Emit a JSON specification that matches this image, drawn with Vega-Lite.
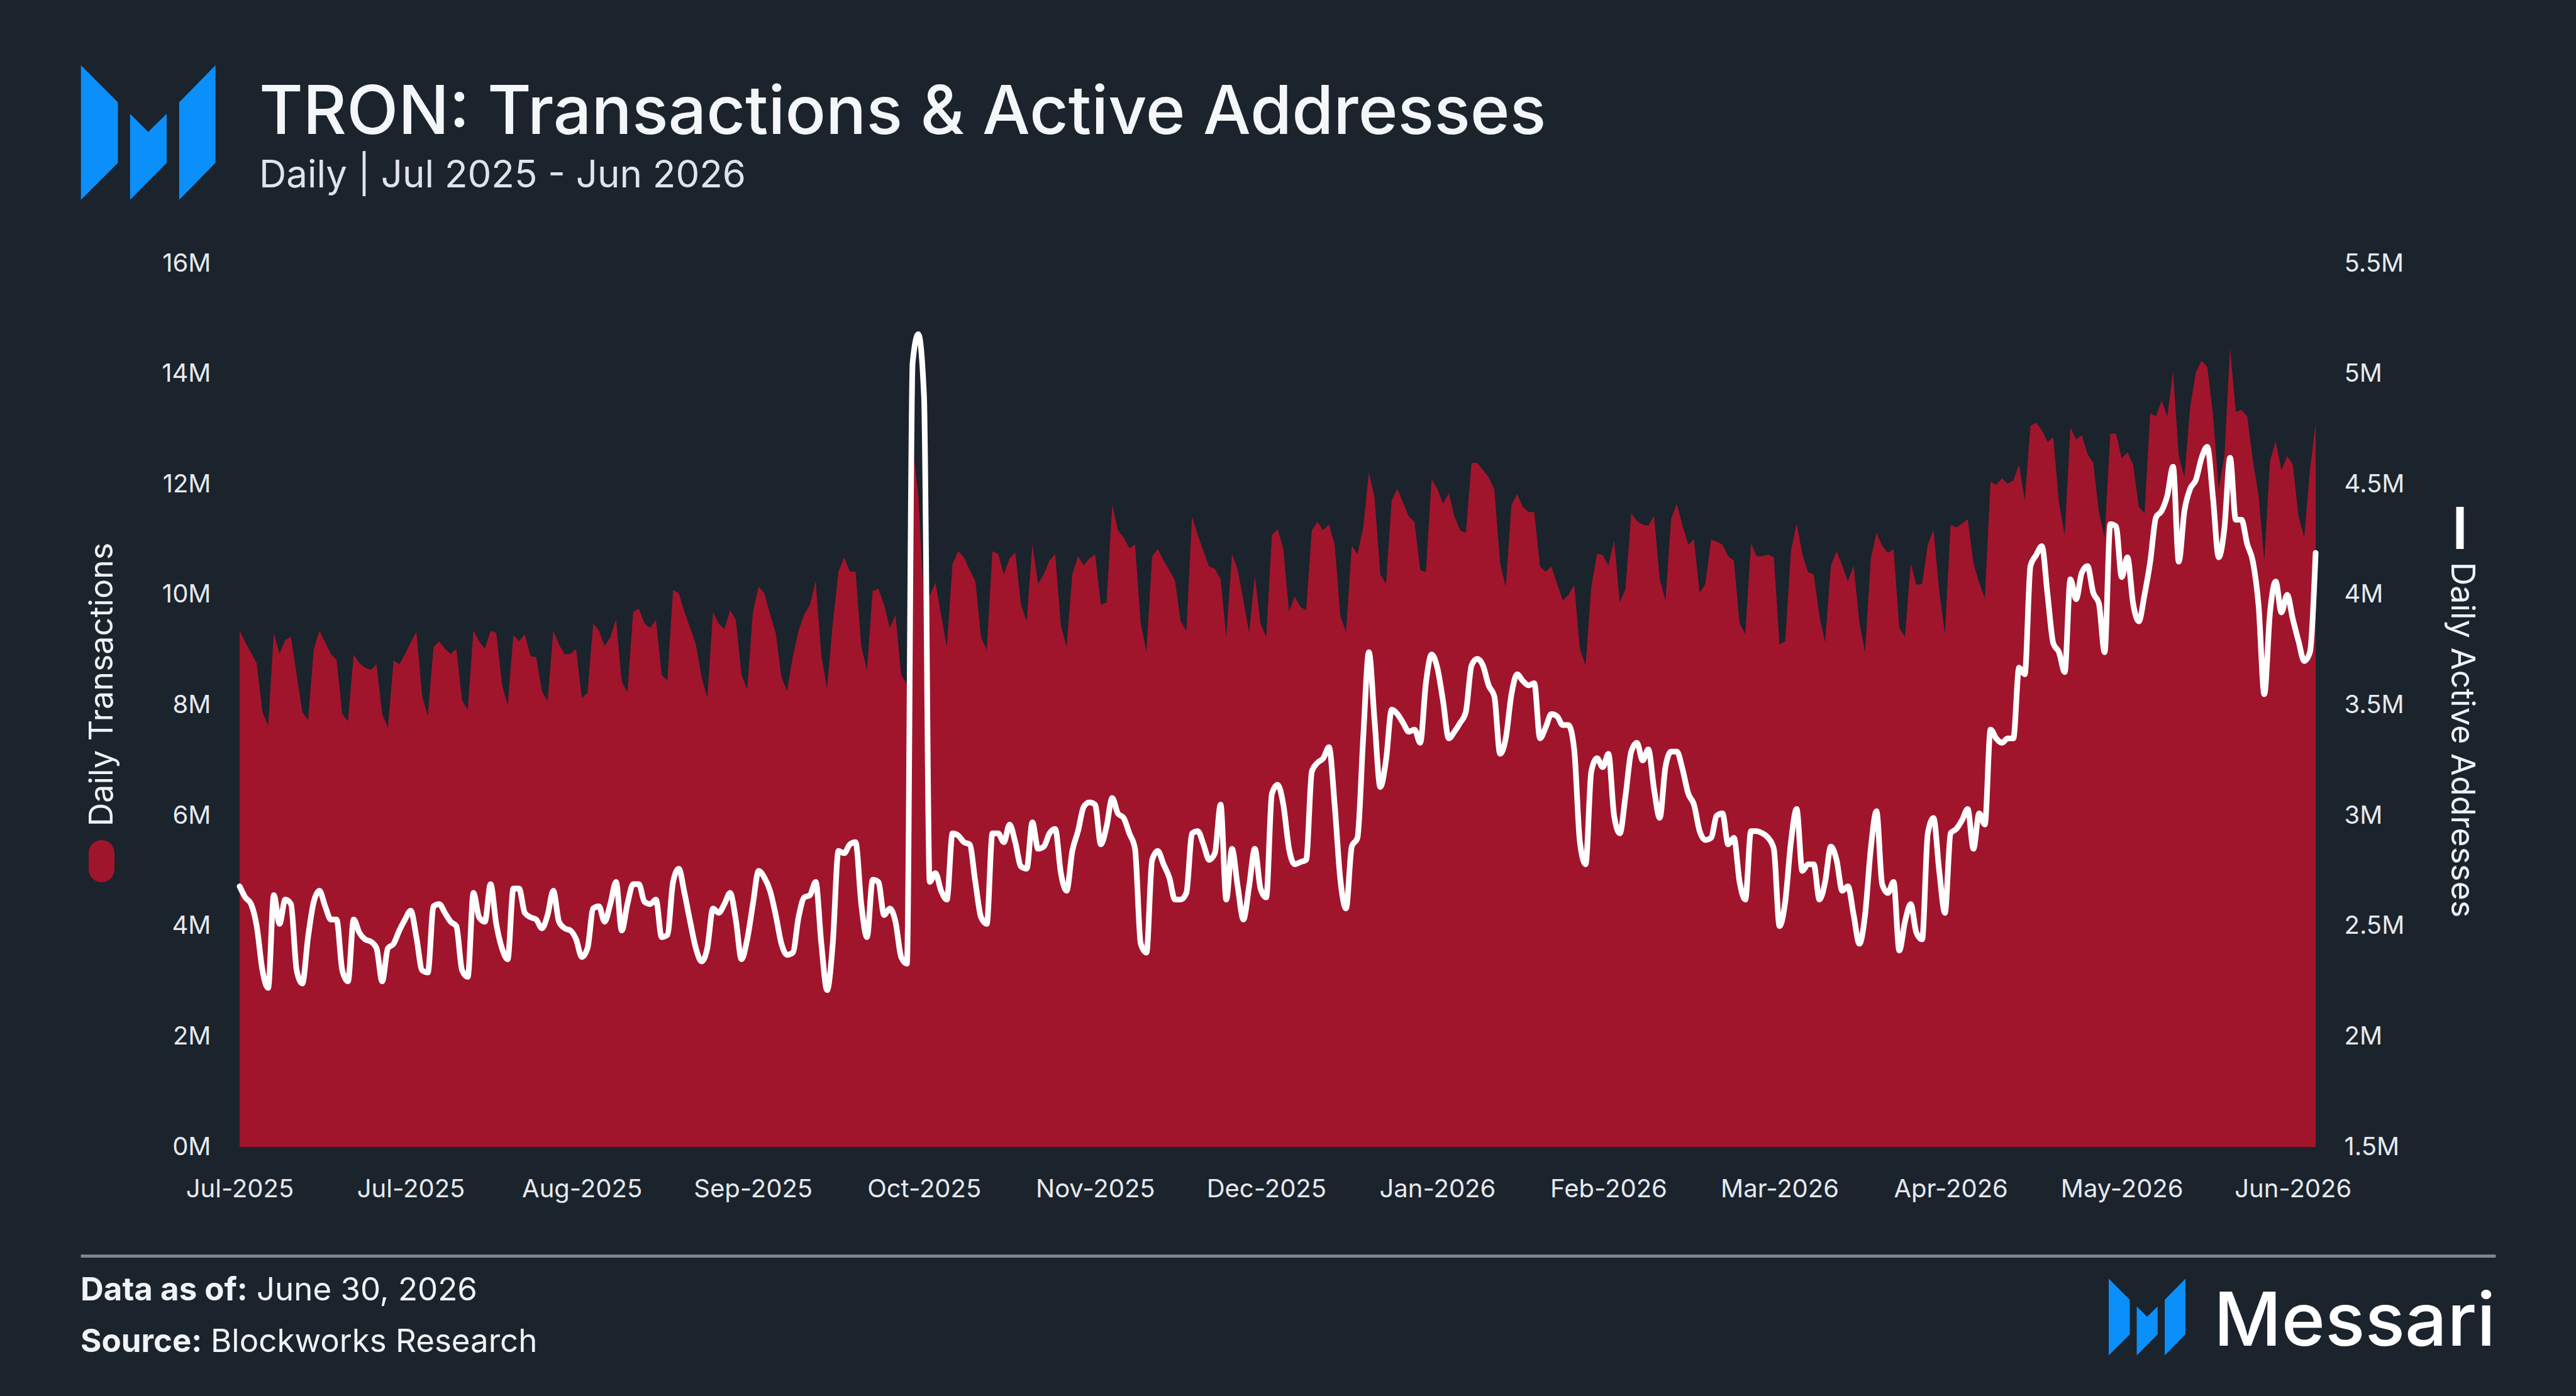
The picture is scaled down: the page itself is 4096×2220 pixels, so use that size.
{
  "$schema": "https://vega.github.io/schema/vega-lite/v6.json",
  "background": "#1b232c",
  "padding": {"left": 128, "top": 103, "right": 128, "bottom": 0},
  "spacing": 81,
  "vconcat": [
    {
      "width": 2200,
      "height": 214,
      "data": {"values": [
        {"role": "title", "text": "TRON: Transactions & Active Addresses"},
        {"role": "subtitle", "text": "Daily | Jul 2025 - Jun 2026"}
      ]},
      "encoding": {
        "x": {"datum": 0, "type": "quantitative", "scale": {"domain": [0, 1], "range": [31, 2200]}, "axis": null},
        "y": {"field": "role", "type": "nominal", "axis": null,
              "scale": {"type": "point", "domain": ["title", "subtitle"], "padding": 0.7588, "align": 0.845}}
      },
      "layer": [
        {
          "transform": [{"filter": "datum.role === 'title'"}],
          "mark": {"type": "point", "filled": true, "opacity": 1, "strokeWidth": 0, "color": "#0b8ffa", "size": 45796,
                   "shape": "M-2.648,-1.02L-2.098,-0.47L-2.098,0.43L-2.648,0.98ZM-1.918,-0.3L-1.648,-0.03L-1.373,-0.3L-1.373,0.43L-1.918,0.98ZM-1.188,-0.47L-0.648,-1.02L-0.648,0.43L-1.188,0.98Z"}
        },
        {
          "transform": [{"filter": "datum.role === 'title'"}],
          "mark": {"type": "text", "align": "left", "baseline": "alphabetic", "fontSize": 107, "fontWeight": 500, "color": "#f4f7fa"},
          "encoding": {"text": {"field": "text"}}
        },
        {
          "transform": [{"filter": "datum.role === 'subtitle'"}],
          "mark": {"type": "text", "align": "left", "baseline": "alphabetic", "fontSize": 60, "color": "#dfe4ea"},
          "encoding": {"text": {"field": "text"}}
        }
      ]
    },
    {
      "spacing": 86,
      "vconcat": [
        {
          "width": 3301,
          "height": 1405,
          "data": {"values": [
            {"date":"2025-07-01","tx":9.35,"dau":2.68},{"date":"2025-07-02","tx":9.14,"dau":2.63},{"date":"2025-07-03","tx":8.95,"dau":2.60},
            {"date":"2025-07-04","tx":8.76,"dau":2.50},{"date":"2025-07-05","tx":7.88,"dau":2.30},{"date":"2025-07-06","tx":7.63,"dau":2.22},
            {"date":"2025-07-07","tx":9.31,"dau":2.64},{"date":"2025-07-08","tx":8.93,"dau":2.51},{"date":"2025-07-09","tx":9.18,"dau":2.62},
            {"date":"2025-07-10","tx":9.24,"dau":2.60},{"date":"2025-07-11","tx":8.55,"dau":2.30},{"date":"2025-07-12","tx":7.88,"dau":2.24},
            {"date":"2025-07-13","tx":7.73,"dau":2.45},{"date":"2025-07-14","tx":9.02,"dau":2.61},{"date":"2025-07-15","tx":9.35,"dau":2.66},
            {"date":"2025-07-16","tx":9.14,"dau":2.59},{"date":"2025-07-17","tx":8.93,"dau":2.53},{"date":"2025-07-18","tx":8.82,"dau":2.53},
            {"date":"2025-07-19","tx":7.84,"dau":2.30},{"date":"2025-07-20","tx":7.71,"dau":2.25},{"date":"2025-07-21","tx":8.92,"dau":2.53},
            {"date":"2025-07-22","tx":8.76,"dau":2.47},{"date":"2025-07-23","tx":8.68,"dau":2.44},{"date":"2025-07-24","tx":8.64,"dau":2.43},
            {"date":"2025-07-25","tx":8.74,"dau":2.40},{"date":"2025-07-26","tx":7.84,"dau":2.25},{"date":"2025-07-27","tx":7.59,"dau":2.40},
            {"date":"2025-07-28","tx":8.81,"dau":2.42},{"date":"2025-07-29","tx":8.74,"dau":2.48},{"date":"2025-07-30","tx":8.93,"dau":2.53},
            {"date":"2025-07-31","tx":9.14,"dau":2.57},
            {"date":"2025-08-01","tx":9.33,"dau":2.45},{"date":"2025-08-02","tx":8.17,"dau":2.30},{"date":"2025-08-03","tx":7.80,"dau":2.29},
            {"date":"2025-08-04","tx":9.06,"dau":2.59},{"date":"2025-08-05","tx":9.16,"dau":2.60},{"date":"2025-08-06","tx":9.02,"dau":2.56},
            {"date":"2025-08-07","tx":8.93,"dau":2.52},{"date":"2025-08-08","tx":9.02,"dau":2.50},{"date":"2025-08-09","tx":8.09,"dau":2.30},
            {"date":"2025-08-10","tx":7.92,"dau":2.27},{"date":"2025-08-11","tx":9.35,"dau":2.65},{"date":"2025-08-12","tx":9.16,"dau":2.54},
            {"date":"2025-08-13","tx":9.02,"dau":2.52},{"date":"2025-08-14","tx":9.35,"dau":2.69},{"date":"2025-08-15","tx":9.31,"dau":2.51},
            {"date":"2025-08-16","tx":8.38,"dau":2.40},{"date":"2025-08-17","tx":8.00,"dau":2.35},{"date":"2025-08-18","tx":9.27,"dau":2.67},
            {"date":"2025-08-19","tx":9.16,"dau":2.67},{"date":"2025-08-20","tx":9.29,"dau":2.56},{"date":"2025-08-21","tx":8.89,"dau":2.54},
            {"date":"2025-08-22","tx":8.87,"dau":2.53},{"date":"2025-08-23","tx":8.26,"dau":2.49},{"date":"2025-08-24","tx":8.07,"dau":2.55},
            {"date":"2025-08-25","tx":9.35,"dau":2.66},{"date":"2025-08-26","tx":9.10,"dau":2.52},{"date":"2025-08-27","tx":8.92,"dau":2.49},
            {"date":"2025-08-28","tx":8.93,"dau":2.48},{"date":"2025-08-29","tx":9.02,"dau":2.44},{"date":"2025-08-30","tx":8.13,"dau":2.36},
            {"date":"2025-08-31","tx":8.23,"dau":2.40},
            {"date":"2025-09-01","tx":9.48,"dau":2.58},{"date":"2025-09-02","tx":9.35,"dau":2.59},{"date":"2025-09-03","tx":9.07,"dau":2.52},
            {"date":"2025-09-04","tx":9.23,"dau":2.60},{"date":"2025-09-05","tx":9.56,"dau":2.70},{"date":"2025-09-06","tx":8.43,"dau":2.48},
            {"date":"2025-09-07","tx":8.23,"dau":2.60},{"date":"2025-09-08","tx":9.69,"dau":2.69},{"date":"2025-09-09","tx":9.75,"dau":2.69},
            {"date":"2025-09-10","tx":9.48,"dau":2.61},{"date":"2025-09-11","tx":9.40,"dau":2.60},{"date":"2025-09-12","tx":9.55,"dau":2.62},
            {"date":"2025-09-13","tx":8.55,"dau":2.45},{"date":"2025-09-14","tx":8.45,"dau":2.46},{"date":"2025-09-15","tx":10.09,"dau":2.70},
            {"date":"2025-09-16","tx":10.03,"dau":2.76},{"date":"2025-09-17","tx":9.69,"dau":2.65},{"date":"2025-09-18","tx":9.40,"dau":2.52},
            {"date":"2025-09-19","tx":9.10,"dau":2.40},{"date":"2025-09-20","tx":8.51,"dau":2.34},{"date":"2025-09-21","tx":8.13,"dau":2.40},
            {"date":"2025-09-22","tx":9.69,"dau":2.58},{"date":"2025-09-23","tx":9.48,"dau":2.56},{"date":"2025-09-24","tx":9.38,"dau":2.60},
            {"date":"2025-09-25","tx":9.72,"dau":2.65},{"date":"2025-09-26","tx":9.55,"dau":2.53},{"date":"2025-09-27","tx":8.55,"dau":2.35},
            {"date":"2025-09-28","tx":8.28,"dau":2.44},{"date":"2025-09-29","tx":9.69,"dau":2.60},{"date":"2025-09-30","tx":10.15,"dau":2.75},
            {"date":"2025-10-01","tx":10.03,"dau":2.72},{"date":"2025-10-02","tx":9.65,"dau":2.66},{"date":"2025-10-03","tx":9.31,"dau":2.55},
            {"date":"2025-10-04","tx":8.51,"dau":2.42},{"date":"2025-10-05","tx":8.26,"dau":2.37},{"date":"2025-10-06","tx":8.89,"dau":2.38},
            {"date":"2025-10-07","tx":9.35,"dau":2.54},{"date":"2025-10-08","tx":9.65,"dau":2.63},{"date":"2025-10-09","tx":9.82,"dau":2.64},
            {"date":"2025-10-10","tx":10.25,"dau":2.70},{"date":"2025-10-11","tx":8.89,"dau":2.42},{"date":"2025-10-12","tx":8.30,"dau":2.21},
            {"date":"2025-10-13","tx":9.48,"dau":2.42},{"date":"2025-10-14","tx":10.42,"dau":2.84},{"date":"2025-10-15","tx":10.68,"dau":2.83},
            {"date":"2025-10-16","tx":10.42,"dau":2.87},{"date":"2025-10-17","tx":10.42,"dau":2.88},{"date":"2025-10-18","tx":9.06,"dau":2.60},
            {"date":"2025-10-19","tx":8.64,"dau":2.45},{"date":"2025-10-20","tx":10.07,"dau":2.71},{"date":"2025-10-21","tx":10.11,"dau":2.70},
            {"date":"2025-10-22","tx":9.82,"dau":2.55},{"date":"2025-10-23","tx":9.40,"dau":2.58},{"date":"2025-10-24","tx":9.63,"dau":2.52},
            {"date":"2025-10-25","tx":8.55,"dau":2.36},{"date":"2025-10-26","tx":8.38,"dau":2.33},{"date":"2025-10-27","tx":12.70,"dau":5.05},
            {"date":"2025-10-28","tx":11.80,"dau":5.18},{"date":"2025-10-29","tx":9.90,"dau":4.90},{"date":"2025-10-30","tx":9.99,"dau":2.70},
            {"date":"2025-10-31","tx":10.22,"dau":2.74},
            {"date":"2025-11-01","tx":9.63,"dau":2.66},{"date":"2025-11-02","tx":9.06,"dau":2.62},{"date":"2025-11-03","tx":10.56,"dau":2.92},
            {"date":"2025-11-04","tx":10.79,"dau":2.91},{"date":"2025-11-05","tx":10.68,"dau":2.88},{"date":"2025-11-06","tx":10.45,"dau":2.87},
            {"date":"2025-11-07","tx":10.25,"dau":2.70},{"date":"2025-11-08","tx":9.23,"dau":2.54},{"date":"2025-11-09","tx":9.00,"dau":2.51},
            {"date":"2025-11-10","tx":10.79,"dau":2.92},{"date":"2025-11-11","tx":10.74,"dau":2.92},{"date":"2025-11-12","tx":10.37,"dau":2.88},
            {"date":"2025-11-13","tx":10.66,"dau":2.96},{"date":"2025-11-14","tx":10.77,"dau":2.88},{"date":"2025-11-15","tx":9.82,"dau":2.77},
            {"date":"2025-11-16","tx":9.52,"dau":2.76},{"date":"2025-11-17","tx":10.91,"dau":2.97},{"date":"2025-11-18","tx":10.20,"dau":2.85},
            {"date":"2025-11-19","tx":10.37,"dau":2.86},{"date":"2025-11-20","tx":10.62,"dau":2.92},{"date":"2025-11-21","tx":10.74,"dau":2.94},
            {"date":"2025-11-22","tx":9.44,"dau":2.74},{"date":"2025-11-23","tx":9.06,"dau":2.66},{"date":"2025-11-24","tx":10.37,"dau":2.84},
            {"date":"2025-11-25","tx":10.70,"dau":2.93},{"date":"2025-11-26","tx":10.53,"dau":3.04},{"date":"2025-11-27","tx":10.66,"dau":3.06},
            {"date":"2025-11-28","tx":10.73,"dau":3.05},{"date":"2025-11-29","tx":9.82,"dau":2.87},{"date":"2025-11-30","tx":9.86,"dau":2.95},
            {"date":"2025-12-01","tx":11.63,"dau":3.08},{"date":"2025-12-02","tx":11.17,"dau":3.01},{"date":"2025-12-03","tx":11.04,"dau":2.99},
            {"date":"2025-12-04","tx":10.84,"dau":2.92},{"date":"2025-12-05","tx":10.91,"dau":2.85},{"date":"2025-12-06","tx":9.48,"dau":2.42},
            {"date":"2025-12-07","tx":8.97,"dau":2.38},{"date":"2025-12-08","tx":10.70,"dau":2.80},{"date":"2025-12-09","tx":10.83,"dau":2.84},
            {"date":"2025-12-10","tx":10.62,"dau":2.78},{"date":"2025-12-11","tx":10.45,"dau":2.72},{"date":"2025-12-12","tx":10.26,"dau":2.62},
            {"date":"2025-12-13","tx":9.52,"dau":2.62},{"date":"2025-12-14","tx":9.35,"dau":2.65},{"date":"2025-12-15","tx":11.42,"dau":2.92},
            {"date":"2025-12-16","tx":11.08,"dau":2.93},{"date":"2025-12-17","tx":10.79,"dau":2.87},{"date":"2025-12-18","tx":10.51,"dau":2.80},
            {"date":"2025-12-19","tx":10.47,"dau":2.83},{"date":"2025-12-20","tx":10.28,"dau":3.05},{"date":"2025-12-21","tx":9.24,"dau":2.62},
            {"date":"2025-12-22","tx":10.74,"dau":2.85},{"date":"2025-12-23","tx":10.45,"dau":2.68},{"date":"2025-12-24","tx":9.90,"dau":2.53},
            {"date":"2025-12-25","tx":9.31,"dau":2.68},{"date":"2025-12-26","tx":10.34,"dau":2.85},{"date":"2025-12-27","tx":9.48,"dau":2.67},
            {"date":"2025-12-28","tx":9.23,"dau":2.63},{"date":"2025-12-29","tx":11.08,"dau":3.10},{"date":"2025-12-30","tx":11.19,"dau":3.14},
            {"date":"2025-12-31","tx":10.83,"dau":3.05},
            {"date":"2026-01-01","tx":9.69,"dau":2.85},{"date":"2026-01-02","tx":9.97,"dau":2.78},{"date":"2026-01-03","tx":9.78,"dau":2.79},
            {"date":"2026-01-04","tx":9.72,"dau":2.80},{"date":"2026-01-05","tx":11.17,"dau":3.20},{"date":"2026-01-06","tx":11.32,"dau":3.24},
            {"date":"2026-01-07","tx":11.17,"dau":3.26},{"date":"2026-01-08","tx":11.28,"dau":3.31},{"date":"2026-01-09","tx":10.91,"dau":3.05},
            {"date":"2026-01-10","tx":9.61,"dau":2.71},{"date":"2026-01-11","tx":9.33,"dau":2.58},{"date":"2026-01-12","tx":10.89,"dau":2.86},
            {"date":"2026-01-13","tx":10.74,"dau":2.90},{"date":"2026-01-14","tx":11.21,"dau":3.35},{"date":"2026-01-15","tx":12.22,"dau":3.74},
            {"date":"2026-01-16","tx":11.76,"dau":3.43},{"date":"2026-01-17","tx":10.37,"dau":3.13},{"date":"2026-01-18","tx":10.20,"dau":3.25},
            {"date":"2026-01-19","tx":11.71,"dau":3.48},{"date":"2026-01-20","tx":11.92,"dau":3.46},{"date":"2026-01-21","tx":11.67,"dau":3.42},
            {"date":"2026-01-22","tx":11.42,"dau":3.38},{"date":"2026-01-23","tx":11.32,"dau":3.39},{"date":"2026-01-24","tx":10.45,"dau":3.33},
            {"date":"2026-01-25","tx":10.41,"dau":3.60},{"date":"2026-01-26","tx":12.09,"dau":3.73},{"date":"2026-01-27","tx":11.92,"dau":3.67},
            {"date":"2026-01-28","tx":11.65,"dau":3.52},{"date":"2026-01-29","tx":11.84,"dau":3.35},{"date":"2026-01-30","tx":11.42,"dau":3.38},
            {"date":"2026-01-31","tx":11.17,"dau":3.42},
            {"date":"2026-02-01","tx":11.12,"dau":3.47},{"date":"2026-02-02","tx":12.39,"dau":3.68},{"date":"2026-02-03","tx":12.39,"dau":3.71},
            {"date":"2026-02-04","tx":12.26,"dau":3.68},{"date":"2026-02-05","tx":12.13,"dau":3.59},{"date":"2026-02-06","tx":11.91,"dau":3.54},
            {"date":"2026-02-07","tx":10.58,"dau":3.28},{"date":"2026-02-08","tx":10.14,"dau":3.35},{"date":"2026-02-09","tx":11.63,"dau":3.55},
            {"date":"2026-02-10","tx":11.82,"dau":3.64},{"date":"2026-02-11","tx":11.59,"dau":3.61},{"date":"2026-02-12","tx":11.50,"dau":3.59},
            {"date":"2026-02-13","tx":11.50,"dau":3.60},{"date":"2026-02-14","tx":10.51,"dau":3.35},{"date":"2026-02-15","tx":10.42,"dau":3.40},
            {"date":"2026-02-16","tx":10.51,"dau":3.46},{"date":"2026-02-17","tx":10.20,"dau":3.45},{"date":"2026-02-18","tx":9.90,"dau":3.41},
            {"date":"2026-02-19","tx":10.00,"dau":3.41},{"date":"2026-02-20","tx":10.18,"dau":3.30},{"date":"2026-02-21","tx":9.02,"dau":2.88},
            {"date":"2026-02-22","tx":8.72,"dau":2.78},{"date":"2026-02-23","tx":10.15,"dau":3.20},{"date":"2026-02-24","tx":10.74,"dau":3.26},
            {"date":"2026-02-25","tx":10.72,"dau":3.22},{"date":"2026-02-26","tx":10.53,"dau":3.28},{"date":"2026-02-27","tx":10.98,"dau":3.00},
            {"date":"2026-02-28","tx":9.86,"dau":2.92},
            {"date":"2026-03-01","tx":10.11,"dau":3.09},{"date":"2026-03-02","tx":11.48,"dau":3.29},{"date":"2026-03-03","tx":11.33,"dau":3.33},
            {"date":"2026-03-04","tx":11.27,"dau":3.25},{"date":"2026-03-05","tx":11.25,"dau":3.30},{"date":"2026-03-06","tx":11.43,"dau":3.12},
            {"date":"2026-03-07","tx":10.28,"dau":2.99},{"date":"2026-03-08","tx":9.90,"dau":3.22},{"date":"2026-03-09","tx":11.38,"dau":3.29},
            {"date":"2026-03-10","tx":11.65,"dau":3.29},{"date":"2026-03-11","tx":11.25,"dau":3.21},{"date":"2026-03-12","tx":10.91,"dau":3.10},
            {"date":"2026-03-13","tx":11.00,"dau":3.05},{"date":"2026-03-14","tx":10.03,"dau":2.93},{"date":"2026-03-15","tx":10.20,"dau":2.89},
            {"date":"2026-03-16","tx":11.00,"dau":2.90},{"date":"2026-03-17","tx":10.96,"dau":3.00},{"date":"2026-03-18","tx":10.91,"dau":3.01},
            {"date":"2026-03-19","tx":10.70,"dau":2.87},{"date":"2026-03-20","tx":10.62,"dau":2.90},{"date":"2026-03-21","tx":9.48,"dau":2.70},
            {"date":"2026-03-22","tx":9.29,"dau":2.62},{"date":"2026-03-23","tx":10.93,"dau":2.93},{"date":"2026-03-24","tx":10.70,"dau":2.93},
            {"date":"2026-03-25","tx":10.70,"dau":2.92},{"date":"2026-03-26","tx":10.73,"dau":2.90},{"date":"2026-03-27","tx":10.68,"dau":2.85},
            {"date":"2026-03-28","tx":9.10,"dau":2.50},{"date":"2026-03-29","tx":9.16,"dau":2.61},{"date":"2026-03-30","tx":10.79,"dau":2.88},
            {"date":"2026-03-31","tx":11.29,"dau":3.03},
            {"date":"2026-04-01","tx":10.74,"dau":2.75},{"date":"2026-04-02","tx":10.41,"dau":2.78},{"date":"2026-04-03","tx":10.37,"dau":2.78},
            {"date":"2026-04-04","tx":9.61,"dau":2.62},{"date":"2026-04-05","tx":9.14,"dau":2.70},{"date":"2026-04-06","tx":10.53,"dau":2.86},
            {"date":"2026-04-07","tx":10.79,"dau":2.80},{"date":"2026-04-08","tx":10.53,"dau":2.66},{"date":"2026-04-09","tx":10.24,"dau":2.68},
            {"date":"2026-04-10","tx":10.53,"dau":2.55},{"date":"2026-04-11","tx":9.50,"dau":2.42},{"date":"2026-04-12","tx":8.96,"dau":2.55},
            {"date":"2026-04-13","tx":10.66,"dau":2.85},{"date":"2026-04-14","tx":11.12,"dau":3.02},{"date":"2026-04-15","tx":10.89,"dau":2.69},
            {"date":"2026-04-16","tx":10.76,"dau":2.65},{"date":"2026-04-17","tx":10.83,"dau":2.70},{"date":"2026-04-18","tx":9.40,"dau":2.39},
            {"date":"2026-04-19","tx":9.24,"dau":2.52},{"date":"2026-04-20","tx":10.57,"dau":2.60},{"date":"2026-04-21","tx":10.18,"dau":2.47},
            {"date":"2026-04-22","tx":10.20,"dau":2.44},{"date":"2026-04-23","tx":10.91,"dau":2.92},{"date":"2026-04-24","tx":11.18,"dau":2.99},
            {"date":"2026-04-25","tx":10.07,"dau":2.75},{"date":"2026-04-26","tx":9.29,"dau":2.56},{"date":"2026-04-27","tx":11.27,"dau":2.92},
            {"date":"2026-04-28","tx":11.22,"dau":2.94},{"date":"2026-04-29","tx":11.29,"dau":2.98},{"date":"2026-04-30","tx":11.37,"dau":3.03},
            {"date":"2026-05-01","tx":10.57,"dau":2.85},{"date":"2026-05-02","tx":10.22,"dau":3.01},{"date":"2026-05-03","tx":9.94,"dau":2.96},
            {"date":"2026-05-04","tx":12.05,"dau":3.39},{"date":"2026-05-05","tx":11.99,"dau":3.35},{"date":"2026-05-06","tx":12.11,"dau":3.33},
            {"date":"2026-05-07","tx":12.01,"dau":3.35},{"date":"2026-05-08","tx":12.07,"dau":3.35},{"date":"2026-05-09","tx":12.36,"dau":3.67},
            {"date":"2026-05-10","tx":11.71,"dau":3.64},{"date":"2026-05-11","tx":13.06,"dau":4.13},{"date":"2026-05-12","tx":13.12,"dau":4.18},
            {"date":"2026-05-13","tx":12.98,"dau":4.22},{"date":"2026-05-14","tx":12.77,"dau":4.00},{"date":"2026-05-15","tx":12.85,"dau":3.78},
            {"date":"2026-05-16","tx":11.67,"dau":3.74},{"date":"2026-05-17","tx":11.08,"dau":3.65},{"date":"2026-05-18","tx":13.03,"dau":4.07},
            {"date":"2026-05-19","tx":12.81,"dau":3.98},{"date":"2026-05-20","tx":12.89,"dau":4.10},{"date":"2026-05-21","tx":12.55,"dau":4.13},
            {"date":"2026-05-22","tx":12.39,"dau":4.01},{"date":"2026-05-23","tx":11.50,"dau":3.96},{"date":"2026-05-24","tx":11.04,"dau":3.74},
            {"date":"2026-05-25","tx":12.92,"dau":4.32},{"date":"2026-05-26","tx":12.92,"dau":4.31},{"date":"2026-05-27","tx":12.47,"dau":4.08},
            {"date":"2026-05-28","tx":12.58,"dau":4.17},{"date":"2026-05-29","tx":12.36,"dau":3.96},{"date":"2026-05-30","tx":11.59,"dau":3.88},
            {"date":"2026-05-31","tx":11.48,"dau":4.00},
            {"date":"2026-06-01","tx":13.29,"dau":4.15},{"date":"2026-06-02","tx":13.23,"dau":4.35},{"date":"2026-06-03","tx":13.52,"dau":4.38},
            {"date":"2026-06-04","tx":13.23,"dau":4.45},{"date":"2026-06-05","tx":14.05,"dau":4.58},{"date":"2026-06-06","tx":12.51,"dau":4.15},
            {"date":"2026-06-07","tx":12.13,"dau":4.38},{"date":"2026-06-08","tx":13.40,"dau":4.48},{"date":"2026-06-09","tx":14.03,"dau":4.52},
            {"date":"2026-06-10","tx":14.24,"dau":4.62},{"date":"2026-06-11","tx":14.13,"dau":4.67},{"date":"2026-06-12","tx":13.27,"dau":4.44},
            {"date":"2026-06-13","tx":11.92,"dau":4.17},{"date":"2026-06-14","tx":12.51,"dau":4.30},{"date":"2026-06-15","tx":14.47,"dau":4.62},
            {"date":"2026-06-16","tx":13.31,"dau":4.34},{"date":"2026-06-17","tx":13.35,"dau":4.34},{"date":"2026-06-18","tx":13.23,"dau":4.23},
            {"date":"2026-06-19","tx":12.43,"dau":4.15},{"date":"2026-06-20","tx":11.80,"dau":3.95},{"date":"2026-06-21","tx":10.62,"dau":3.55},
            {"date":"2026-06-22","tx":12.43,"dau":3.92},{"date":"2026-06-23","tx":12.78,"dau":4.06},{"date":"2026-06-24","tx":12.26,"dau":3.92},
            {"date":"2026-06-25","tx":12.51,"dau":4.00},{"date":"2026-06-26","tx":12.36,"dau":3.89},{"date":"2026-06-27","tx":11.42,"dau":3.79},
            {"date":"2026-06-28","tx":11.04,"dau":3.70},{"date":"2026-06-29","tx":12.26,"dau":3.74},{"date":"2026-06-30","tx":13.10,"dau":4.19}
          ]},
          "encoding": {
            "x": {
              "field": "date", "type": "temporal",
              "scale": {"type": "utc", "nice": false,
                        "domain": [{"year": 2025, "month": 7, "date": 1, "utc": true}, {"year": 2026, "month": 6, "date": 30, "utc": true}]},
              "axis": {
                "title": null, "labelExpr": "utcFormat(datum.value, '%b-%Y')", "labelFlush": false, "labelOverlap": false,
                "labelLimit": 0, "labelPadding": 47, "labelAlign": "center",
                "values": [
                  {"year": 2025, "month": 7, "date": 1, "utc": true}, {"year": 2025, "month": 7, "date": 31, "utc": true},
                  {"year": 2025, "month": 8, "date": 30, "utc": true}, {"year": 2025, "month": 9, "date": 29, "utc": true},
                  {"year": 2025, "month": 10, "date": 29, "utc": true}, {"year": 2025, "month": 11, "date": 28, "utc": true},
                  {"year": 2025, "month": 12, "date": 28, "utc": true}, {"year": 2026, "month": 1, "date": 27, "utc": true},
                  {"year": 2026, "month": 2, "date": 26, "utc": true}, {"year": 2026, "month": 3, "date": 28, "utc": true},
                  {"year": 2026, "month": 4, "date": 27, "utc": true}, {"year": 2026, "month": 5, "date": 27, "utc": true},
                  {"year": 2026, "month": 6, "date": 26, "utc": true}
                ]
              }
            }
          },
          "layer": [
            {
              "mark": {"type": "area", "interpolate": "linear", "opacity": 1},
              "encoding": {
                "y": {
                  "field": "tx", "type": "quantitative",
                  "scale": {"domain": [0, 16], "nice": false},
                  "axis": {
                    "values": [0, 2, 4, 6, 8, 10, 12, 14, 16], "labelExpr": "datum.value + 'M'", "labelPadding": 46,
                    "title": "Daily Transactions", "titleAngle": -90, "titleX": -219, "titleY": 669,
                    "titleAlign": "center", "titleBaseline": "middle"
                  }
                },
                "fill": {
                  "datum": "Daily Transactions",
                  "scale": {"range": ["#a0152c"]},
                  "legend": {
                    "orient": "none", "legendX": -253, "legendY": 1232, "title": null, "labelExpr": "''", "padding": 0,
                    "symbolSize": 4489, "symbolStrokeWidth": 0, "symbolOpacity": 1,
                    "symbolType": "M-0.612,-0.388A0.612,0.612,0,0,1,0.612,-0.388L0.612,0.388A0.612,0.612,0,0,1,-0.612,0.388Z"
                  }
                }
              }
            },
            {
              "mark": {"type": "line", "interpolate": "monotone", "strokeWidth": 9, "strokeJoin": "round", "strokeCap": "round"},
              "encoding": {
                "y": {
                  "field": "dau", "type": "quantitative",
                  "scale": {"domain": [1.5, 5.5], "nice": false, "zero": false},
                  "axis": {
                    "orient": "right", "values": [1.5, 2, 2.5, 3, 3.5, 4, 4.5, 5, 5.5], "labelExpr": "datum.value + 'M'",
                    "labelPadding": 45, "title": "Daily Active Addresses", "titleAngle": 90, "titleX": 231, "titleY": 757,
                    "titleAlign": "center", "titleBaseline": "middle"
                  }
                },
                "stroke": {
                  "datum": "Daily Active Addresses",
                  "scale": {"range": ["#ffffff"]},
                  "legend": {
                    "orient": "none", "legendX": 3491, "legendY": 696, "title": null, "labelExpr": "''", "padding": 0,
                    "symbolType": "M0,-1L0,1", "symbolSize": 4489, "symbolStrokeWidth": 12, "symbolStrokeColor": "#ffffff"
                  }
                }
              }
            }
          ],
          "resolve": {"scale": {"y": "independent"}}
        },
        {
          "width": 3587,
          "height": 223,
          "data": {"values": [
            {"label": "Data as of:", "value": "June 30, 2026"},
            {"label": "Source:", "value": "Blockworks Research"}
          ]},
          "encoding": {
            "x": {"datum": 0, "type": "quantitative", "scale": {"domain": [0, 1], "range": [-253, 3587]},
                  "axis": {"orient": "top", "domain": true, "domainColor": "#7d858e", "domainWidth": 5, "labels": false, "ticks": false, "grid": false, "title": null}},
            "y": {"field": "label", "type": "nominal", "axis": null,
                  "scale": {"type": "point", "domain": ["Data as of:", "Source:"], "padding": 0.855, "align": 0.506}}
          },
          "layer": [
            {
              "mark": {"type": "text", "align": "left", "baseline": "alphabetic", "fontSize": 51, "fontWeight": "bold", "color": "#f0f4f8"},
              "encoding": {"text": {"field": "label"}}
            },
            {
              "transform": [{"filter": "datum.label === 'Data as of:'"}],
              "mark": {"type": "text", "align": "left", "baseline": "alphabetic", "fontSize": 51, "dx": 280, "color": "#f0f4f8"},
              "encoding": {"text": {"field": "value"}}
            },
            {
              "transform": [{"filter": "datum.label === 'Source:'"}],
              "mark": {"type": "text", "align": "left", "baseline": "alphabetic", "fontSize": 51, "dx": 207, "color": "#f0f4f8"},
              "encoding": {"text": {"field": "value"}}
            },
            {
              "data": {"values": [{"brand": "Messari"}]},
              "mark": {"type": "text", "align": "right", "baseline": "alphabetic", "fontSize": 118, "fontWeight": 500, "dy": -10, "color": "#ffffff"},
              "encoding": {"x": {"datum": 1}, "y": {"datum": "Source:"}, "text": {"field": "brand"}}
            },
            {
              "data": {"values": [{"brand": "Messari"}]},
              "mark": {"type": "point", "filled": true, "opacity": 1, "strokeWidth": 0, "color": "#0b8ffa", "size": 14884,
                       "shape": "M-10.082,-1.918L-9.532,-1.368L-9.532,-0.468L-10.082,0.082ZM-9.352,-1.198L-9.082,-0.928L-8.807,-1.198L-8.807,-0.468L-9.352,0.082ZM-8.622,-1.368L-8.082,-1.918L-8.082,-0.468L-8.622,0.082Z"},
              "encoding": {"x": {"datum": 1}, "y": {"datum": "Source:"}}
            }
          ]
        }
      ]
    }
  ],
  "config": {
    "font": "Inter",
    "view": {"stroke": null},
    "axis": {
      "labelFont": "Inter", "labelFontSize": 40, "labelColor": "#e6eaef",
      "titleFont": "Inter", "titleFontSize": 52, "titleFontWeight": 400, "titleColor": "#eef2f6",
      "domain": false, "ticks": false, "tickSize": 0, "grid": false
    },
    "legend": {"labelFontSize": 1, "labelOffset": 0, "rowPadding": 0}
  }
}
